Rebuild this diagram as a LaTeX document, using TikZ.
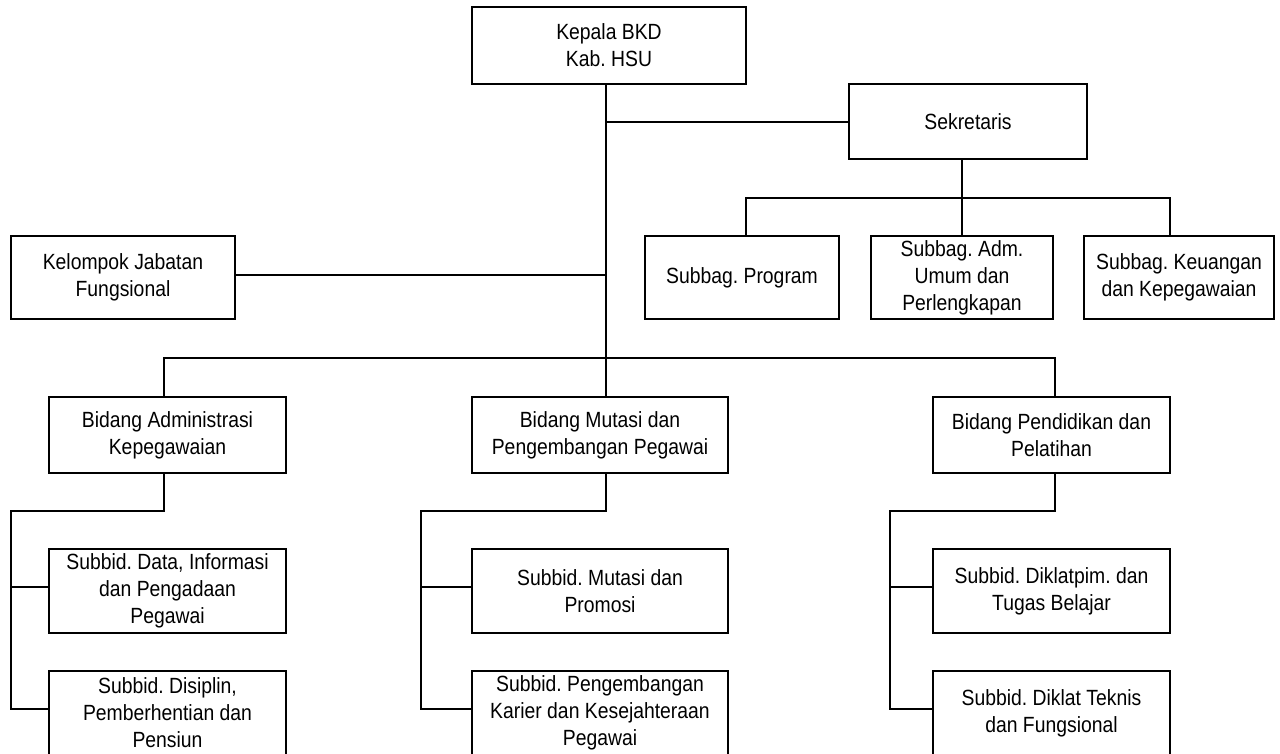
\documentclass[tikz,border=0pt]{standalone}
\usepackage{fontspec}
\setmainfont{Liberation Sans}[FakeStretch=0.88]
\frenchspacing
\begin{document}
\begin{tikzpicture}[x=1pt,y=-1pt,
  box/.style={draw, line width=2.2pt, rectangle, inner sep=0pt, align=center,
    font=\fontsize{22}{27}\selectfont\frenchspacing},
  conn/.style={line width=2.2pt}]
\useasboundingbox (0,0) rectangle (1280,753);
% top level
\node[box, minimum width=274pt, minimum height=77pt] (kep) at (609,45.5) {Kepala BKD\\Kab. HSU};
\node[box, minimum width=238pt, minimum height=75pt] (sek) at (968,121.5) {Sekretaris};
\node[box, minimum width=194pt, minimum height=83pt] (prog) at (742,277.5) {Subbag. Program};
\node[box, minimum width=182pt, minimum height=83pt] (adm) at (962,277.5) {Subbag. Adm.\\Umum dan\\Perlengkapan};
\node[box, minimum width=190pt, minimum height=83pt] (keu) at (1179,277.5) {Subbag. Keuangan\\dan Kepegawaian};
\node[box, minimum width=224pt, minimum height=83pt] (kel) at (123,277.5) {Kelompok Jabatan\\Fungsional};
% bidang
\node[box, minimum width=237pt, minimum height=76pt] (bidA) at (167.5,435) {Bidang Administrasi\\Kepegawaian};
\node[box, minimum width=256pt, minimum height=76pt] (bidB) at (600,435) {Bidang Mutasi dan\\Pengembangan Pegawai};
\node[box, minimum width=237pt, minimum height=76pt] (bidC) at (1051.5,435) {Bidang Pendidikan dan\\Pelatihan};
% subbid
\node[box, minimum width=237pt, minimum height=84pt] (subA1) at (167.5,591) {Subbid. Data, Informasi\\dan Pengadaan\\Pegawai};
\node[box, minimum width=237pt, minimum height=84pt] (subA2) at (167.5,713) {Subbid. Disiplin,\\Pemberhentian dan\\Pensiun};
\node[box, minimum width=256pt, minimum height=84pt] (subB1) at (600,591) {Subbid. Mutasi dan\\Promosi};
\node[box, minimum width=256pt, minimum height=84pt] (subB2) at (600,713) {Subbid. Pengembangan\\Karier dan Kesejahteraan\\Pegawai};
\node[box, minimum width=237pt, minimum height=84pt] (subC1) at (1051.5,591) {Subbid. Diklatpim. dan\\Tugas Belajar};
\node[box, minimum width=237pt, minimum height=84pt] (subC2) at (1051.5,713) {Subbid. Diklat Teknis\\dan Fungsional};
% junctions
\coordinate (t1) at (606,122);
\coordinate (t2) at (606,275);
\coordinate (t3) at (606,358);
\coordinate (s0) at (746,198);
\coordinate (s1) at (962,198);
\coordinate (s2) at (1170,198);
\coordinate (b1) at (164,358);
\coordinate (b3) at (1055,358);
\coordinate (a1) at (164,511);
\coordinate (a2) at (11,511);
\coordinate (a4) at (11,587);
\coordinate (a3) at (11,709);
\coordinate (m1) at (606,511);
\coordinate (m2) at (421,511);
\coordinate (m4) at (421,587);
\coordinate (m3) at (421,709);
\coordinate (c1) at (1055,511);
\coordinate (c2) at (890,511);
\coordinate (c4) at (890,587);
\coordinate (c3) at (890,709);
% connectors
\draw[conn] (kep.south -| t1) -- (t3);
\draw[conn] (t1) -- (t1 -| sek.west);
\draw[conn] (t2 -| kel.east) -- (t2);
\draw[conn] (sek.south -| s1) -- (s1);
\draw[conn] (prog.north -| s0) -- (s0) -- (s2) -- (keu.north -| s2);
\draw[conn] (s1) -- (adm.north);
\draw[conn] (bidA.north -| b1) -- (b1) -- (b3) -- (bidC.north -| b3);
\draw[conn] (t3) -- (bidB.north -| t3);
\draw[conn] (bidA.south -| a1) -- (a1) -- (a2) -- (a3) -- (a3 -| subA2.west);
\draw[conn] (a4) -- (a4 -| subA1.west);
\draw[conn] (bidB.south -| m1) -- (m1) -- (m2) -- (m3) -- (m3 -| subB2.west);
\draw[conn] (m4) -- (m4 -| subB1.west);
\draw[conn] (bidC.south -| c1) -- (c1) -- (c2) -- (c3) -- (c3 -| subC2.west);
\draw[conn] (c4) -- (c4 -| subC1.west);
\end{tikzpicture}
\end{document}
